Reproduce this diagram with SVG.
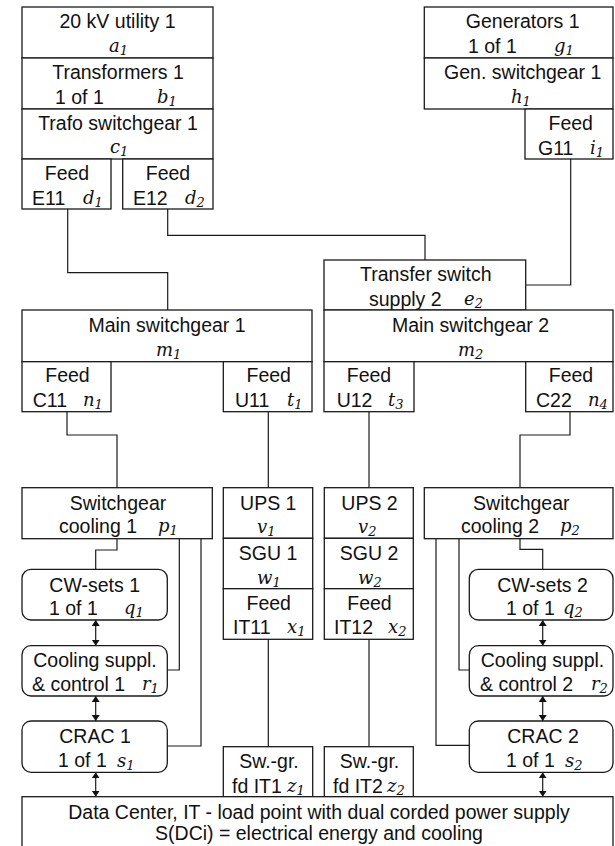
<svg xmlns="http://www.w3.org/2000/svg" width="615" height="846" viewBox="0 0 615 846">
<defs>
<style>
rect{fill:#fff;stroke:#1a1a1a;stroke-width:1.3}
.c{fill:none;stroke:#1a1a1a;stroke-width:1.2}
text{font-family:"Liberation Sans",Arial,sans-serif;font-size:19.5px;fill:#111}
.m{text-anchor:middle}
text.v{font-family:"DejaVu Serif","Liberation Serif",serif;font-style:italic;font-size:18px}
.s{font-size:13px}
</style>
<marker id="ah" markerUnits="userSpaceOnUse" markerWidth="7" markerHeight="9" refX="6" refY="4.5" orient="auto-start-reverse">
<path d="M0,0.5 L6,4.5 L0,8.5 Z" fill="#111"/>
</marker>
</defs>
<rect x="0" y="0" width="615" height="846" style="fill:#fff;stroke:none"/>
<g id="connectors">
<path class="c" d="M67.7,209 V272.7 H167.7 V310"/>
<path class="c" d="M167.7,209 V235.3 H425 V260"/>
<path class="c" d="M570.7,159 V285 H525.7"/>
<path class="c" d="M67,411.7 V435 H117 V487.7"/>
<path class="c" d="M268.3,411.7 V487.7"/>
<path class="c" d="M369,411.7 V487.7"/>
<path class="c" d="M570,411.7 V435 H520 V487.7"/>
<path class="c" d="M268.3,639.3 V746.7"/>
<path class="c" d="M369,639.3 V746.7"/>
<path class="c" d="M117,538.7 V550 H95.7 V569.3"/>
<path class="c" d="M179.3,538.7 V670 H167.3"/>
<path class="c" d="M201,538.7 V746 H167.3"/>
<path class="c" d="M520,538.7 V549.3 H542.7 V569.3"/>
<path class="c" d="M459,538.7 V670 H469.3"/>
<path class="c" d="M436,538.7 V745.3 H469.3"/>
<path class="c" d="M95.7,620 V645.7" marker-start="url(#ah)" marker-end="url(#ah)"/>
<path class="c" d="M95.7,696 V721" marker-start="url(#ah)" marker-end="url(#ah)"/>
<path class="c" d="M95.7,772.3 V796.7" marker-start="url(#ah)" marker-end="url(#ah)"/>
<path class="c" d="M542.7,620 V645.7" marker-start="url(#ah)" marker-end="url(#ah)"/>
<path class="c" d="M542.7,696 V721" marker-start="url(#ah)" marker-end="url(#ah)"/>
<path class="c" d="M542.7,772.3 V796.7" marker-start="url(#ah)" marker-end="url(#ah)"/>
</g>
<g id="a1"><rect x="22" y="7" width="191" height="51"/><text class="m" x="117.5" y="28">20 kV utility 1</text><text class="v" x="109" y="52">a<tspan class="s" dy="3">1</tspan></text></g>
<g id="b1"><rect x="22" y="58" width="191" height="51"/><text class="m" x="118" y="79">Transformers 1</text><text x="55" y="104">1 of 1</text><text class="v" x="157" y="103">b<tspan class="s" dy="3">1</tspan></text></g>
<g id="c1"><rect x="22" y="109" width="191" height="50"/><text class="m" x="118" y="130">Trafo switchgear 1</text><text class="v" x="110" y="153">c<tspan class="s" dy="3">1</tspan></text></g>
<g id="d1"><rect x="22" y="159" width="89" height="50"/><text class="m" x="67" y="180">Feed</text><text x="32" y="205">E11</text><text class="v" x="83" y="204">d<tspan class="s" dy="3">1</tspan></text></g>
<g id="d2"><rect x="122.7" y="159" width="90.3" height="50"/><text class="m" x="168" y="180">Feed</text><text x="133" y="205">E12</text><text class="v" x="185" y="204">d<tspan class="s" dy="3">2</tspan></text></g>
<g id="g1"><rect x="424.3" y="7" width="188.7" height="51"/><text class="m" x="522.7" y="28">Generators 1</text><text x="468" y="53">1 of 1</text><text class="v" x="554" y="52">g<tspan class="s" dy="3">1</tspan></text></g>
<g id="h1"><rect x="424.3" y="58" width="188.7" height="51"/><text class="m" x="522.7" y="79">Gen. switchgear 1</text><text class="v" x="511" y="103">h<tspan class="s" dy="3">1</tspan></text></g>
<g id="i1"><rect x="525" y="109" width="88" height="50"/><text class="m" x="570.7" y="130">Feed</text><text x="538" y="155">G11</text><text class="v" x="590" y="154">i<tspan class="s" dy="3">1</tspan></text></g>
<g id="e2"><rect x="324" y="260" width="201.7" height="50"/><text class="m" x="425.8" y="281">Transfer switch</text><text x="369" y="306">supply 2</text><text class="v" x="464" y="305">e<tspan class="s" dy="3">2</tspan></text></g>
<g id="m1"><rect x="22" y="310" width="290" height="51.7"/><text class="m" x="167" y="332">Main switchgear 1</text><text class="v" x="156" y="356">m<tspan class="s" dy="3">1</tspan></text></g>
<g id="m2"><rect x="324" y="310" width="289" height="51.7"/><text class="m" x="470.5" y="332">Main switchgear 2</text><text class="v" x="458" y="356">m<tspan class="s" dy="3">2</tspan></text></g>
<g id="n1"><rect x="22" y="361.7" width="89" height="50"/><text class="m" x="67.5" y="382">Feed</text><text x="32.7" y="407">C11</text><text class="v" x="83" y="406">n<tspan class="s" dy="3">1</tspan></text></g>
<g id="t1"><rect x="223.3" y="361.7" width="88.7" height="50"/><text class="m" x="268.7" y="382">Feed</text><text x="235" y="407">U11</text><text class="v" x="287" y="406">t<tspan class="s" dy="3">1</tspan></text></g>
<g id="t3"><rect x="324" y="361.7" width="90" height="50"/><text class="m" x="369" y="382">Feed</text><text x="336.7" y="407">U12</text><text class="v" x="388" y="406">t<tspan class="s" dy="3">3</tspan></text></g>
<g id="n4"><rect x="525.7" y="361.7" width="87.3" height="50"/><text class="m" x="571" y="382">Feed</text><text x="536" y="407">C22</text><text class="v" x="588" y="406">n<tspan class="s" dy="3">4</tspan></text></g>
<g id="p1"><rect x="22" y="487.7" width="190.3" height="51"/><text class="m" x="118" y="510">Switchgear</text><text x="59" y="533">cooling 1</text><text class="v" x="158" y="532">p<tspan class="s" dy="3">1</tspan></text></g>
<g id="v1"><rect x="223.3" y="487.7" width="89.4" height="50.6"/><text class="m" x="268.3" y="510">UPS 1</text><text class="v" x="257" y="533">v<tspan class="s" dy="3">1</tspan></text></g>
<g id="w1"><rect x="223.3" y="538.3" width="89.4" height="50.4"/><text class="m" x="268" y="560">SGU 1</text><text class="v" x="257" y="584">w<tspan class="s" dy="3">1</tspan></text></g>
<g id="x1"><rect x="223.3" y="588.7" width="89.4" height="50.6"/><text class="m" x="268.7" y="610">Feed</text><text x="233" y="634">IT11</text><text class="v" x="287" y="633">x<tspan class="s" dy="3">1</tspan></text></g>
<g id="v2"><rect x="324.3" y="487.7" width="89" height="50.6"/><text class="m" x="369.5" y="510">UPS 2</text><text class="v" x="358" y="533">v<tspan class="s" dy="3">2</tspan></text></g>
<g id="w2"><rect x="324.3" y="538.3" width="89" height="50.4"/><text class="m" x="369" y="560">SGU 2</text><text class="v" x="358" y="584">w<tspan class="s" dy="3">2</tspan></text></g>
<g id="x2"><rect x="324.3" y="588.7" width="89" height="50.6"/><text class="m" x="369.5" y="610">Feed</text><text x="334" y="634">IT12</text><text class="v" x="388" y="633">x<tspan class="s" dy="3">2</tspan></text></g>
<g id="p2"><rect x="424.3" y="487.7" width="188.7" height="51"/><text class="m" x="521.3" y="510">Switchgear</text><text x="461" y="533">cooling 2</text><text class="v" x="560" y="532">p<tspan class="s" dy="3">2</tspan></text></g>
<g id="q1"><rect x="22" y="569.3" width="145.3" height="50.7" rx="9"/><text class="m" x="94.7" y="592">CW-sets 1</text><text x="49" y="615">1 of 1</text><text class="v" x="124" y="614">q<tspan class="s" dy="3">1</tspan></text></g>
<g id="r1"><rect x="22" y="645.7" width="145.3" height="50.3" rx="9"/><text class="m" x="95" y="667">Cooling suppl.</text><text x="32" y="691">&amp; control 1</text><text class="v" x="142" y="690">r<tspan class="s" dy="3">1</tspan></text></g>
<g id="s1"><rect x="22" y="721" width="145.3" height="51.3" rx="9"/><text class="m" x="95" y="743">CRAC 1</text><text x="58" y="767">1 of 1</text><text class="v" x="117" y="767">s<tspan class="s" dy="3">1</tspan></text></g>
<g id="q2"><rect x="469.3" y="569.3" width="143.7" height="50.7" rx="9"/><text class="m" x="542.5" y="592">CW-sets 2</text><text x="506" y="615">1 of 1</text><text class="v" x="563" y="614">q<tspan class="s" dy="3">2</tspan></text></g>
<g id="r2"><rect x="469.3" y="645.7" width="143.7" height="50.3" rx="9"/><text class="m" x="542.5" y="667">Cooling suppl.</text><text x="480" y="691">&amp; control 2</text><text class="v" x="591" y="690">r<tspan class="s" dy="3">2</tspan></text></g>
<g id="s2"><rect x="469.3" y="721" width="143.7" height="51.3" rx="9"/><text class="m" x="543" y="743">CRAC 2</text><text x="506" y="767">1 of 1</text><text class="v" x="565" y="767">s<tspan class="s" dy="3">2</tspan></text></g>
<g id="z1"><rect x="223.3" y="746.7" width="89.4" height="50"/><text class="m" x="269" y="768">Sw.-gr.</text><text x="232" y="793">fd IT1</text><text class="v" x="287" y="792">z<tspan class="s" dy="3">1</tspan></text></g>
<g id="z2"><rect x="324.3" y="746.7" width="89" height="50"/><text class="m" x="369.5" y="768">Sw.-gr.</text><text x="333" y="793">fd IT2</text><text class="v" x="387" y="792">z<tspan class="s" dy="3">2</tspan></text></g>
<g id="dc"><rect x="22" y="796.7" width="591" height="52"/><text class="m" x="319" y="819">Data Center, IT - load point with dual corded power supply</text><text class="m" x="319" y="840">S(DCi) = electrical energy and cooling</text></g>
</svg>
